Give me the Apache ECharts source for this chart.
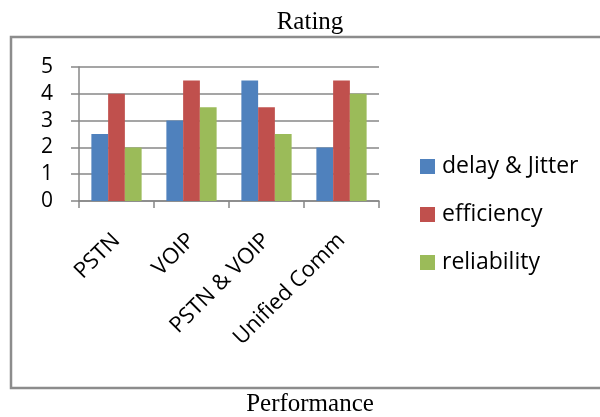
<!DOCTYPE html>
<html>
<head>
<meta charset="utf-8">
<script src="https://cdn.jsdelivr.net/npm/echarts@6/dist/echarts.min.js"></script>
<style>
  html, body { margin: 0; padding: 0; background: #fff; }
  #chart { width: 600px; height: 417px; }
</style>
</head>
<body>
<div id="chart"></div>
<script>
// Ratings of each telephony approach on three criteria
const categories = ['PSTN', 'VOIP', 'PSTN & VOIP', 'Unified Comm'];
const delayJitter = [2.5, 3, 4.5, 2];
const efficiency = [4, 4.5, 3.5, 4.5];
const reliability = [2, 3.5, 2.5, 4];
const seriesNames = ['delay & Jitter', 'efficiency', 'reliability'];
const seriesColors = ['#4F81BD', '#C0504D', '#9BBB59'];
const yTicks = { min: 0, max: 5, interval: 1 };

const sansFont = '"Open Sans", "Liberation Sans", sans-serif';
const serifFont = '"Liberation Serif", "DejaVu Serif", serif';
const gridGray = '#878787';

const chart = echarts.init(document.getElementById('chart'), null, { renderer: 'canvas' });

const seriesData = [delayJitter, efficiency, reliability];

chart.setOption({
  animation: false,
  backgroundColor: '#ffffff',
  graphic: [
    {
      // frame around the chart area (open on the right)
      type: 'rect',
      x: 11, y: 37,
      shape: { x: 0, y: 0, width: 640, height: 351 },
      style: { fill: 'none', stroke: '#8c8c8c', lineWidth: 2.5 },
      silent: true,
      z: 0
    },
    {
      type: 'text',
      x: 310, y: 10,
      style: {
        text: 'Rating', font: '25px ' + serifFont, fill: '#000',
        textAlign: 'center', textVerticalAlign: 'top'
      }
    },
    {
      type: 'text',
      x: 310, y: 392,
      style: {
        text: 'Performance', font: '25px ' + serifFont, fill: '#000',
        textAlign: 'center', textVerticalAlign: 'top'
      }
    }
  ],
  grid: { left: 79, right: 221, top: 67, bottom: 216, containLabel: false },
  legend: {
    orient: 'vertical',
    left: 420, top: 155,
    padding: 0,
    itemWidth: 15, itemHeight: 15,
    itemGap: 25,
    icon: 'rect',
    textStyle: { fontFamily: sansFont, fontSize: 23, color: '#000', padding: [0, 0, 0, 2] },
    data: seriesNames
  },
  xAxis: {
    type: 'category',
    data: categories,
    axisLine: { lineStyle: { color: gridGray, width: 1.5 } },
    axisTick: { show: true, length: 7, alignWithLabel: false, lineStyle: { color: gridGray, width: 1.5 } },
    axisLabel: {
      interval: 0, rotate: 45, margin: 36,
      fontFamily: sansFont, fontSize: 22, color: '#000'
    }
  },
  yAxis: {
    type: 'value',
    min: yTicks.min, max: yTicks.max, interval: yTicks.interval,
    axisLine: { show: true, lineStyle: { color: gridGray, width: 1.5 } },
    axisTick: { show: true, length: 8, lineStyle: { color: gridGray, width: 1.5 } },
    splitLine: { show: true, lineStyle: { color: gridGray, width: 1.5 } },
    axisLabel: { margin: 26, fontFamily: sansFont, fontSize: 21, color: '#000' }
  },
  series: seriesNames.map((name, i) => ({
    name: name,
    type: 'bar',
    data: seriesData[i],
    barGap: '0%',
    barCategoryGap: '33%',
    itemStyle: { color: seriesColors[i] }
  }))
});
</script>
</body>
</html>
